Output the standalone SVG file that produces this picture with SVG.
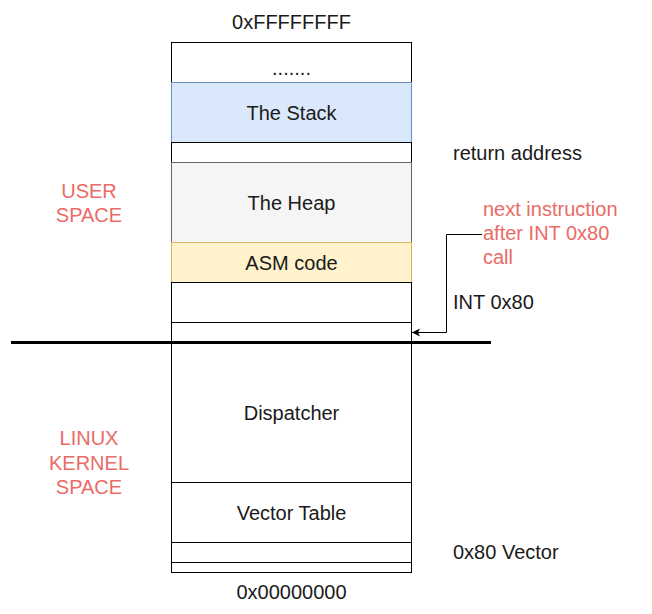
<svg xmlns="http://www.w3.org/2000/svg" width="652" height="614" viewBox="0 0 652 614">
<style>
text{font-family:"Liberation Sans",Arial,sans-serif;font-size:20px;fill:#1a1a1a}
.c{text-anchor:middle}
.r{fill:#ea6b66}
.b{fill:#fff;stroke:#000;stroke-width:1}
</style>
<defs>
<marker id="ah" markerWidth="10" markerHeight="10" refX="8" refY="5" orient="auto" markerUnits="userSpaceOnUse">
<path d="M0,1 L8,5 L0,9 L2,5 Z" fill="#000"/>
</marker>
</defs>
<rect width="652" height="614" fill="#fff"/>
<g id="top"><rect class="b" x="171.5" y="42.5" width="240" height="40"/><text class="c" x="291.5" y="75">.......</text></g>
<g id="stack"><rect x="171.5" y="82.5" width="240" height="60" fill="#dae8fc" stroke="#6c8ebf"/><text class="c" x="291.5" y="120">The Stack</text></g>
<g id="ret"><rect class="b" x="171.5" y="142.5" width="240" height="20"/></g>
<g id="heap"><rect x="171.5" y="162.5" width="240" height="80" fill="#f5f5f5" stroke="#666"/><text class="c" x="291.5" y="210">The Heap</text></g>
<g id="asm"><rect x="171.5" y="242.5" width="240" height="40" fill="#fff2cc" stroke="#d6b656"/><text class="c" x="291.5" y="270">ASM code</text></g>
<g id="int"><rect class="b" x="171.5" y="282.5" width="240" height="40"/></g>
<g id="next"><rect class="b" x="171.5" y="322.5" width="240" height="20"/></g>
<g id="disp"><rect class="b" x="171.5" y="342.5" width="240" height="140"/><text class="c" x="291.5" y="420">Dispatcher</text></g>
<g id="vt"><rect class="b" x="171.5" y="482.5" width="240" height="60"/><text class="c" x="291.5" y="520">Vector Table</text></g>
<g id="v80"><rect class="b" x="171.5" y="542.5" width="240" height="20"/></g>
<g id="bot"><rect class="b" x="171.5" y="562.5" width="240" height="10"/></g>
<g id="connectors">
<line x1="11" y1="342.5" x2="491" y2="342.5" stroke="#000" stroke-width="3"/>
<path d="M482,234.5 H446.5 V332.5 H412" fill="none" stroke="#000" stroke-width="1" marker-end="url(#ah)"/>
</g>
<g id="labels">
<text class="c" x="291.5" y="29">0xFFFFFFFF</text>
<text x="453" y="160">return address</text>
<text class="r" x="483" y="216">next instruction</text>
<text class="r" x="483" y="240">after INT 0x80</text>
<text class="r" x="483" y="264">call</text>
<text x="453" y="309">INT 0x80</text>
<text x="453" y="559">0x80 Vector</text>
<text class="c" x="291.5" y="599">0x00000000</text>
<text class="c r" x="89" y="198">USER</text>
<text class="c r" x="89" y="222">SPACE</text>
<text class="c r" x="89" y="445">LINUX</text>
<text class="c r" x="89" y="470">KERNEL</text>
<text class="c r" x="89" y="494">SPACE</text>
</g>
</svg>
